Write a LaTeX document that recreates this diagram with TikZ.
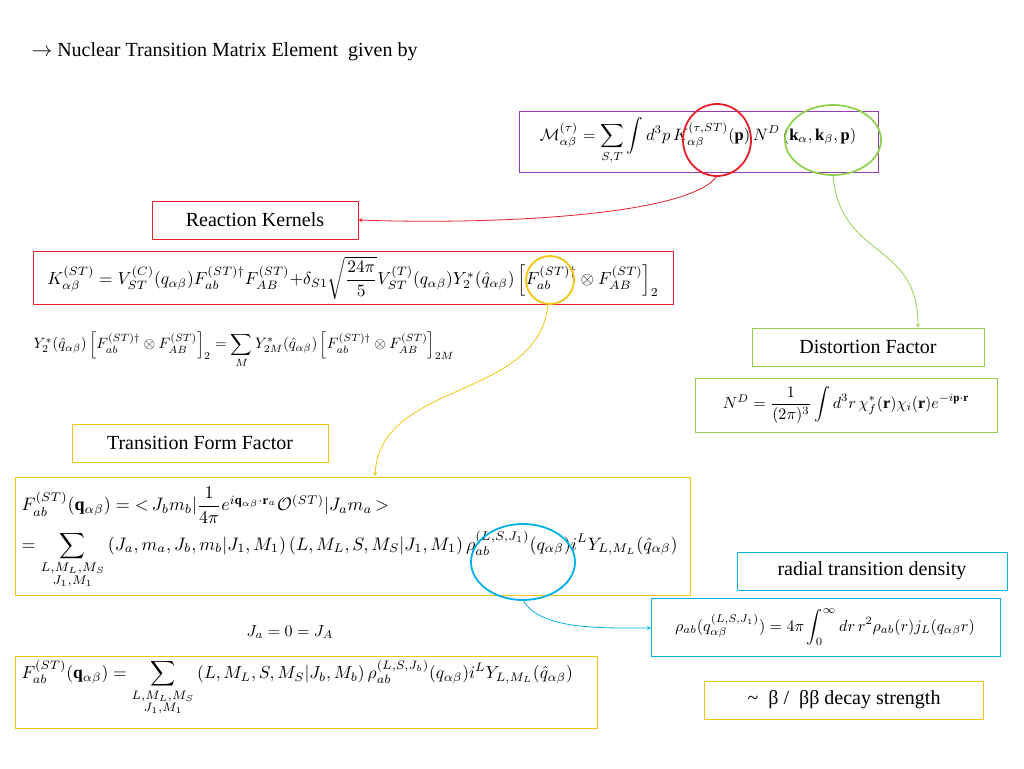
\documentclass[tikz,border=0pt]{standalone}
\usepackage{amsmath,amssymb}
\usepackage{graphicx}
\usepackage{fontspec}
\setmainfont{Liberation Serif}
\usetikzlibrary{positioning}
\definecolor{kred}{RGB}{230,30,40}
\definecolor{kgreen}{RGB}{146,208,80}
\definecolor{kgold}{RGB}{245,195,20}
\definecolor{kblue}{RGB}{0,176,230}
\definecolor{kpurple}{RGB}{150,60,180}
\tikzset{
  labelbox/.style={draw=#1, thick, fill=white, inner xsep=2mm, minimum height=38pt, font=\fontsize{20}{23}\selectfont},
  link/.style={->, >=stealth, thick, draw=#1}
}
\newcommand{\eqs}[2][1.6]{\scalebox{#1}{#2}}
\begin{document}
\begin{tikzpicture}[x=1pt,y=-1pt]
  \useasboundingbox (0,0) rectangle (1024,768);
  % title
  \node[anchor=west, font=\fontsize{20}{23}\selectfont] (title) at (28,52) {$\rightarrow$ Nuclear Transition Matrix Element\ \ given by};
  % matrix element
  \draw[kpurple] (519,111) rectangle (878,172);
  \node (melem) at (698,141) {\eqs[1.65]{$\mathcal{M}^{(\tau)}_{\alpha\beta}=\displaystyle\sum_{S,T}\int d^3p\, K^{(\tau,ST)}_{\alpha\beta}(\mathbf{p})\,N^D\left(\mathbf{k}_\alpha,\mathbf{k}_\beta,\mathbf{p}\right)$}};
  \draw[kred, line width=1.8pt] (717,140) ellipse (34 and 36);
  \draw[kgreen, line width=1.8pt] (833,140) ellipse (48 and 35);
  \coordinate (kring) at (717,176);
  \coordinate (nring) at (833,175);
  % reaction kernels
  \node[labelbox=kred, minimum width=206pt] (react) at (255,220) {Reaction Kernels};
  \draw[kred] (33,251) rectangle (673,304);
  \node (kernel) at (353,278) {\eqs[1.74]{$K^{(ST)}_{\alpha\beta}=V^{(C)}_{ST}(q_{\alpha\beta})F^{(ST)\dagger}_{ab}F^{(ST)}_{AB}{+}\delta_{S1}\sqrt{\dfrac{24\pi}{5}}V^{(T)}_{ST}(q_{\alpha\beta})Y^*_2(\hat q_{\alpha\beta})\left[F^{(ST)\dagger}_{ab}\otimes F^{(ST)}_{AB}\right]_2$}};
  \draw[kgold, line width=1.8pt] (550,280) circle (24);
  \coordinate (fring) at (548,304);
  \node[anchor=west] (ytwo) at (30,350) {\eqs[1.5]{$Y^*_2(\hat q_{\alpha\beta})\left[F^{(ST)\dagger}_{ab}\otimes F^{(ST)}_{AB}\right]_2=\displaystyle\sum_M Y^*_{2M}(\hat q_{\alpha\beta})\left[F^{(ST)\dagger}_{ab}\otimes F^{(ST)}_{AB}\right]_{2M}$}};
  % distortion
  \node[labelbox=kgreen, minimum width=232pt] (dist) at (868,347) {Distortion Factor};
  \draw[kgreen] (695,378) rectangle (997,432);
  \node (ndist) at (846,405) {\eqs{$N^D=\dfrac{1}{(2\pi)^3}\displaystyle\int d^3r\,\chi^*_f(\mathbf{r})\chi_i(\mathbf{r})e^{-i\mathbf{p}\cdot\mathbf{r}}$}};
  % transition form factor
  \node[labelbox=kgold, minimum width=256pt] (form) at (200,443) {Transition Form Factor};
  \draw[kgold] (15,477) rectangle (690,595);
  \node[anchor=west] (fab) at (18,505) {\eqs[1.8]{$F^{(ST)}_{ab}(\mathbf{q}_{\alpha\beta})={<}\,J_bm_b|\dfrac{1}{4\pi}e^{i\mathbf{q}_{\alpha\beta}\cdot\mathbf{r}_a}\mathcal{O}^{(ST)}|J_am_a\,{>}$}};
  \node[anchor=west] (fsum) at (18,560) {\eqs[1.8]{$=\displaystyle\sum_{\substack{L,M_L,M_S\\J_1,M_1}}\left(J_a,m_a,J_b,m_b|J_1,M_1\right)\left(L,M_L,S,M_S|J_1,M_1\right)\rho^{(L,S,J_1)}_{ab}(q_{\alpha\beta})i^LY_{L,M_L}(\hat q_{\alpha\beta})$}};
  \draw[kblue, line width=1.8pt] (523,562) ellipse (52 and 38);
  \coordinate (rring) at (523,600);
  % radial density
  \node[labelbox=kblue, minimum width=270pt] (radial) at (872,571) {radial transition density};
  \draw[kblue] (651,598) rectangle (1000,656);
  \coordinate (rhoedge) at (651,628);
  \node (rho) at (825,627) {\eqs{$\rho_{ab}(q^{(L,S,J_1)}_{\alpha\beta})=4\pi\displaystyle\int_0^\infty dr\,r^2\rho_{ab}(r)j_L(q_{\alpha\beta}r)$}};
  \node (jzero) at (290,632) {\eqs{$J_a=0=J_A$}};
  \draw[kgold] (15,656) rectangle (597,728);
  \node[anchor=west] (fzero) at (18,688) {\eqs[1.75]{$F^{(ST)}_{ab}(\mathbf{q}_{\alpha\beta})=\displaystyle\sum_{\substack{L,M_L,M_S\\J_1,M_1}}\left(L,M_L,S,M_S|J_b,M_b\right)\rho^{(L,S,J_b)}_{ab}(q_{\alpha\beta})i^LY_{L,M_L}(\hat q_{\alpha\beta})$}};
  \node[labelbox=kgold, minimum width=279pt] (decay) at (844,700) {\textasciitilde\ \ β /\ \ ββ decay strength};
  % connectors
  \draw[link=kred] (kring) .. controls (690,215) and (500,225) .. (react.east);
  \draw[link=kgreen] (nring) .. controls (840,260) and (918,240) .. (dist.north -| 918,0);
  \draw[link=kgold] (fring) .. controls (540,400) and (380,380) .. (375,476);
  \draw[link=kblue] (rring) .. controls (540,630) and (600,628) .. (rhoedge);
\end{tikzpicture}
\end{document}
